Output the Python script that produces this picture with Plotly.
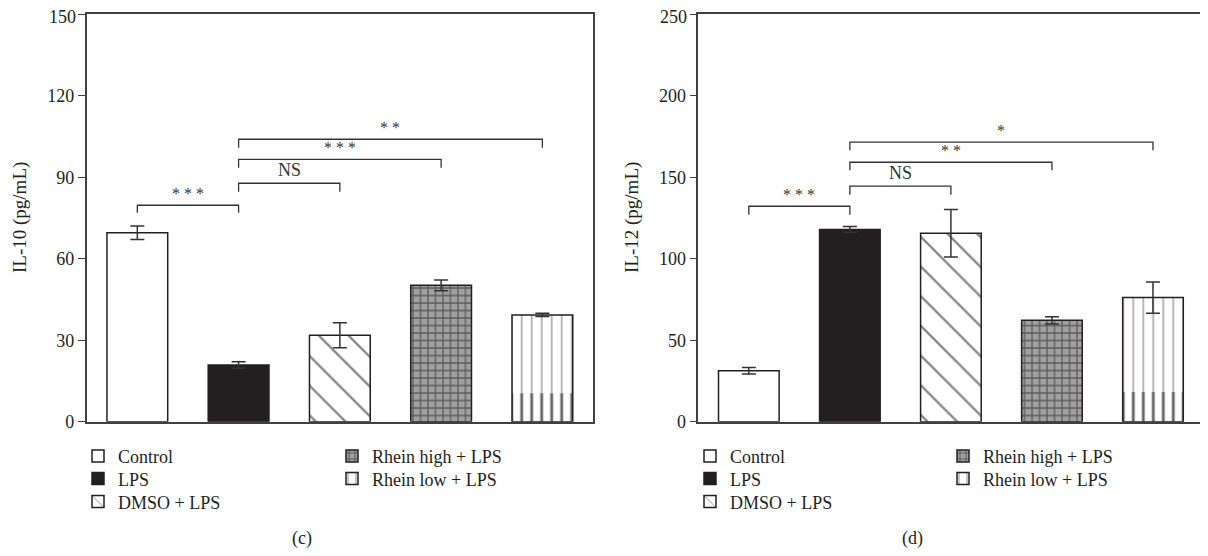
import plotly.graph_objects as go
from plotly.subplots import make_subplots

# ---------------- data ----------------
groups = ["Control", "LPS", "DMSO + LPS", "Rhein high + LPS", "Rhein low + LPS"]
il10_mean = [69.6, 20.9, 31.8, 50.2, 39.3]
il10_err = [2.5, 1.2, 4.6, 2.0, 0.6]
il12_mean = [31.2, 118.0, 115.6, 62.2, 76.2]
il12_err = [2.0, 1.8, 14.6, 2.2, 9.6]
# darker-striped lower part visible inside the "Rhein low + LPS" bars (IL-10, IL-12)
rhein_low_dark = [10.5, 18.2]

# significance brackets: (from group, to group, bar height, leg bottom, label)
il10_sig = [(0, 1, 79.7, 76.9, "* * *"), (1, 2, 87.8, 84.7, "NS"),
            (1, 3, 96.6, 93.5, "* * *"), (1, 4, 104.0, 100.9, "* *")]
il12_sig = [(0, 1, 132.2, 127.0, "* * *"), (1, 2, 144.5, 139.3, "NS"),
            (1, 3, 159.2, 154.3, "* *"), (1, 4, 171.5, 166.6, "*")]

il10_ticks = [0, 30, 60, 90, 120, 150]
il12_ticks = [0, 50, 100, 150, 200, 250]

# ---------------- style ----------------
W, H = 1208, 556
OFF = 8  # page body margin
FONT = "Liberation Serif"
INK = "#231f20"
PAT = "#111111"
AX = "#404040"
CLEAR = "rgba(0,0,0,0)"

styles = [
    dict(color="white"),
    dict(color=INK),
    dict(color="white", pattern=dict(shape="\\", fgcolor=PAT, bgcolor="white", size=21, solidity=0.11, fillmode="overlay")),
    dict(color="#a0a0a0", pattern=dict(shape="+", fgcolor=PAT, bgcolor="#a0a0a0", size=7.5, solidity=0.3, fillmode="overlay")),
    dict(color=CLEAR, pattern=dict(shape="|", fgcolor=PAT, bgcolor=CLEAR, size=10, solidity=0.12, fillmode="overlay")),
]


def px_x(p):
    return (p - OFF) / W


def px_y(p):
    return 1 - (p - OFF) / H


fig = make_subplots(rows=1, cols=2)

# legend placement (display px): text-start x, row centre y
leg_rows = [456.7, 479.3, 502.3, 456.7, 479.3]
leg_cols_left = [118, 118, 118, 372, 372]
leg_cols_right = [730, 730, 730, 983, 983]

panels = [
    (1, il10_mean, il10_err, il10_sig, leg_cols_left, 0, rhein_low_dark[0], il10_ticks),
    (2, il12_mean, il12_err, il12_sig, leg_cols_right, 5, rhein_low_dark[1], il12_ticks),
]

legend_layout = {}
xs = list(range(len(groups)))
for col, means, errs, sigs, legx, legbase, dark, ticks in panels:
    # darker lower part of the striped bar (drawn underneath the outlined bar)
    fig.add_trace(go.Bar(
        x=[xs[4]], y=[dark], width=0.6, showlegend=False, hoverinfo="skip",
        marker=dict(color="white", line=dict(width=0),
                    pattern=dict(shape="|", fgcolor=PAT, bgcolor="white", size=10, solidity=0.3,
                                 fillmode="overlay")),
    ), row=1, col=col)
    for i, g in enumerate(groups):
        m = dict(styles[i])
        m["line"] = dict(color=INK, width=1.5)
        k = legbase + i + 1
        lname = "legend" if k == 1 else f"legend{k}"
        fig.add_trace(go.Bar(
            x=[xs[i]], y=[means[i]], name=g, width=0.6,
            marker=m,
            error_y=dict(type="data", array=[errs[i]], color="#333333", thickness=1.5, width=7),
            legend=lname, showlegend=True, hoverinfo="skip",
        ), row=1, col=col)
        legend_layout[lname] = dict(
            x=px_x(legx[i] - 40), y=px_y(leg_rows[i] - 19), xanchor="left", yanchor="top",
            bgcolor="rgba(0,0,0,0)", font=dict(family=FONT, size=18, color=INK),
            itemwidth=30, orientation="v")
    xref = "x" if col == 1 else "x2"
    yref = "y" if col == 1 else "y2"
    for a, b, top, leg, lab in sigs:
        fig.add_shape(type="path",
                      path=f"M {xs[a]},{leg} L {xs[a]},{top} L {xs[b]},{top} L {xs[b]},{leg}",
                      xref=xref, yref=yref, line=dict(color="#333333", width=1.3))
        fig.add_annotation(x=(xs[a] + xs[b]) / 2, y=top, xref=xref, yref=yref,
                           text=lab, showarrow=False, yanchor="bottom", yshift=1,
                           font=dict(family=FONT, size=18 if lab == "NS" else 16, color="#333333"))
    # top tick label drawn slightly lower so it is not clipped by the page edge
    fig.add_annotation(x=-0.5, y=ticks[-1], xref=xref, yref=yref, xanchor="right", yanchor="middle",
                       xshift=-9, yshift=-3, text=str(ticks[-1]), showarrow=False,
                       font=dict(family=FONT, size=18, color=INK))

axis_common = dict(showline=True, linecolor=AX, linewidth=1.5, mirror=True, showgrid=False,
                   zeroline=False, automargin=False)
fig.update_xaxes(**axis_common, range=[-0.5, 4.5], showticklabels=False, ticks="")
fig.update_yaxes(**axis_common, ticks="outside", ticklen=7, tickwidth=1.3, tickcolor=AX,
                 tickfont=dict(family=FONT, size=18, color=INK))
fig.update_yaxes(range=[0, 150], tickvals=il10_ticks,
                 ticktext=[str(t) for t in il10_ticks[:-1]] + [""], row=1, col=1)
fig.update_yaxes(range=[0, 250], tickvals=il12_ticks,
                 ticktext=[str(t) for t in il12_ticks[:-1]] + [""], row=1, col=2)

ydom = [px_y(421.7), px_y(14.3)]
fig.update_layout(
    xaxis=dict(domain=[px_x(86.7), px_x(593)]),
    xaxis2=dict(domain=[px_x(698.3), px_x(1203.5)]),
    yaxis=dict(domain=ydom),
    yaxis2=dict(domain=ydom),
)

# y-axis titles
for xc, txt in [(20, "IL-10 (pg/mL)"), (632, "IL-12 (pg/mL)")]:
    fig.add_annotation(x=px_x(xc), y=(ydom[0] + ydom[1]) / 2, xref="paper", yref="paper",
                       xanchor="center", yanchor="middle",
                       text=txt, textangle=-90, showarrow=False,
                       font=dict(family=FONT, size=19, color=INK))
# panel captions
for xc, txt in [(301.5, "(c)"), (912.6, "(d)")]:
    fig.add_annotation(x=px_x(xc), y=px_y(538), xref="paper", yref="paper",
                       xanchor="center", yanchor="middle",
                       text=txt, showarrow=False, font=dict(family=FONT, size=18, color=INK))

fig.update_layout(**legend_layout)
fig.update_layout(
    width=W, height=H, margin=dict(l=0, r=0, t=0, b=0, autoexpand=False),
    plot_bgcolor="white", paper_bgcolor="white", barmode="overlay",
)

fig.write_html("out.html")
